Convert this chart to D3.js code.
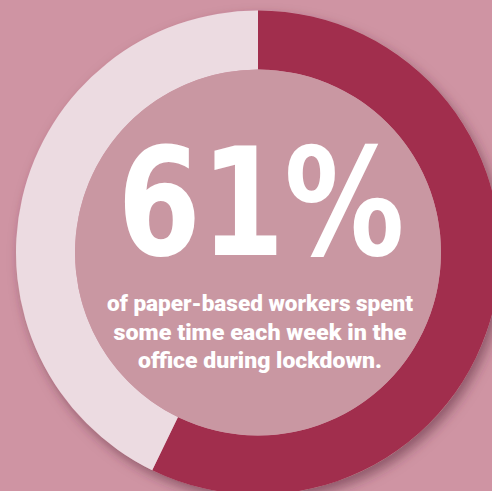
<!DOCTYPE html>
<html>
<head>
<meta charset="utf-8">
<script src="https://cdn.jsdelivr.net/npm/d3@7"></script>
<style>
  html, body { margin: 0; padding: 0; background: #cf94a3; }
  svg { display: block; }
</style>
</head>
<body>
<div id="chart"></div>
<script>
// ---- data ----
const categories = ["Spent some time in the office", "Did not"];
const shares = [57.2, 42.8];            // drawn arc shares (per cent of ring)
const headline = "61%";
const captionLines = [
  "of paper-based workers spent",
  "some time each week in the",
  "office during lockdown."
];
const segmentColors = ["#a12e4d", "url(#lightGrad)"];

// ---- layout ----
const W = 492, H = 491;
const cx = 258, cy = 252.5;
const outerR = 242, innerR = 183;

const svg = d3.select("#chart").append("svg")
  .attr("width", W).attr("height", H);

svg.append("rect").attr("width", W).attr("height", H).attr("fill", "#cf94a3");

const defs = svg.append("defs");
const shadow = defs.append("filter").attr("id", "shadow")
  .attr("x", "-20%").attr("y", "-20%").attr("width", "140%").attr("height", "140%");
shadow.append("feDropShadow")
  .attr("dx", 4).attr("dy", 6).attr("stdDeviation", 6)
  .attr("flood-color", "#5a2a3a").attr("flood-opacity", 0.55);

const lg = defs.append("radialGradient").attr("id", "lightGrad")
  .attr("gradientUnits", "userSpaceOnUse")
  .attr("cx", cx + 40).attr("cy", cy + 40).attr("r", outerR + 56);
lg.append("stop").attr("offset", 0.88).attr("stop-color", "#dcc9ce");
lg.append("stop").attr("offset", 0.95).attr("stop-color", "#e0ced3");
lg.append("stop").attr("offset", 1).attr("stop-color", "#ecdbe1");

const g = svg.append("g").attr("transform", `translate(${cx},${cy})`);

const pie = d3.pie().sort(null).value(d => d)
  .startAngle(0).endAngle(2 * Math.PI);
const arc = d3.arc().innerRadius(innerR).outerRadius(outerR);

// shadow disc behind the ring
g.append("circle").attr("r", outerR).attr("fill", "#cf94a3")
  .attr("filter", "url(#shadow)");

g.selectAll("path.seg")
  .data(pie(shares))
  .join("path")
  .attr("class", "seg")
  .attr("d", arc)
  .attr("fill", (d, i) => segmentColors[i]);

g.append("circle").attr("r", innerR).attr("fill", "#c997a2");

// headline
svg.append("text")
  .attr("x", 261).attr("y", 255)
  .attr("text-anchor", "middle")
  .attr("font-family", "DejaVu Sans")
  .attr("font-weight", "bold")
  .attr("font-size", 150)
  .attr("textLength", 287)
  .attr("lengthAdjust", "spacingAndGlyphs")
  .attr("fill", "#ffffff")
  .text(headline);

const lineWidths = [306, 293, 244];
const lineBase = [311, 340, 368];
svg.append("g").selectAll("text")
  .data(captionLines)
  .join("text")
  .attr("x", 260)
  .attr("y", (d, i) => lineBase[i])
  .attr("text-anchor", "middle")
  .attr("font-family", "Roboto")
  .attr("font-weight", 900)
  .attr("font-size", 22.5)
  .attr("textLength", (d, i) => lineWidths[i])
  .attr("lengthAdjust", "spacingAndGlyphs")
  .attr("fill", "#ffffff")
  .text(d => d);
</script>
</body>
</html>
